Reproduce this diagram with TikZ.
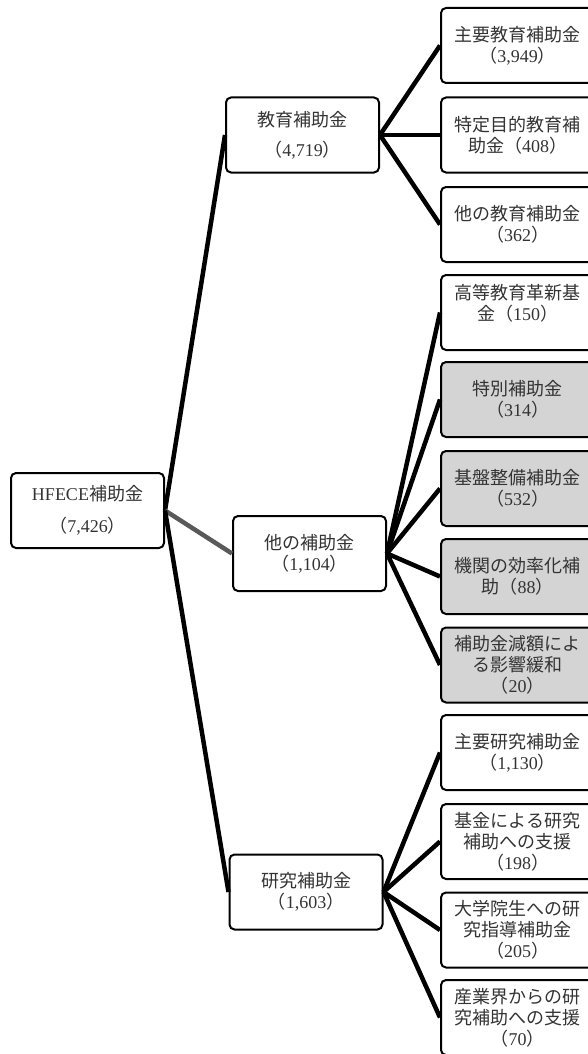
\documentclass[tikz,border=0pt]{standalone}
\usepackage{fontspec}
\newfontfamily\cjk{Noto Sans CJK JP}
\newfontfamily\numfont{Liberation Serif}
\newcommand{\amt}[1]{（{\numfont #1}）}

\tikzset{
  box/.style={draw, line width=2pt, rounded corners=5pt, minimum width=153pt,
    minimum height=75pt, align=center, inner sep=0pt, text=black!80,
    font=\cjk\fontsize{18}{21}\selectfont},
  greybox/.style={box, fill=black!17},
  link/.style={line width=4.5pt},
  greylink/.style={line width=4.5pt, draw=black!65},
}

\begin{document}
\begin{tikzpicture}[x=1pt,y=1pt]
\useasboundingbox (0,0) rectangle (587,-1054);

% Wurzel und mittlere Spalte:
\node[box] (root) at (87.5,-510.5) {{\numfont HFECE}補助金\\[11pt]\amt{7,426}};
\node[box] (edu) at (302.5,-135) {教育補助金\\[9pt]\amt{4,719}};
\node[box] (other) at (309.5,-553.5) {他の補助金\\\amt{1,104}};
\node[box] (res) at (306,-892) {研究補助金\\\amt{1,603}};

% rechte Spalte:
\node[box] (edu1) at (517.5,-45.5) {主要教育補助金\\\amt{3,949}};
\node[box] (edu2) at (517.5,-135) {特定目的教育補\\助金\amt{408}};
\node[box] (edu3) at (517.5,-224.5) {他の教育補助金\\\amt{362}};
\node[box] (oth1) at (517.5,-312.5) {高等教育革新基\\金\amt{150}\\\mbox{}};
\node[greybox] (oth2) at (517.5,-399.5) {特別補助金\\\amt{314}};
\node[greybox] (oth3) at (517.5,-488.5) {基盤整備補助金\\\amt{532}};
\node[greybox] (oth4) at (517.5,-576.5) {機関の効率化補\\助\amt{88}};
\node[greybox] (oth5) at (517.5,-665) {補助金減額によ\\る影響緩和\\\amt{20}};
\node[box] (res1) at (517.5,-752.5) {主要研究補助金\\\amt{1,130}};
\node[box] (res2) at (517.5,-841.5) {基金による研究\\補助への支援\\\amt{198}};
\node[box] (res3) at (517.5,-930) {大学院生への研\\究指導補助金\\\amt{205}};
\node[box] (res4) at (517.5,-1017.5) {産業界からの研\\究補助への支援\\\amt{70}};

% Verbindungen:
\draw[link] (root.east) -- (edu.west);
\draw[greylink] (root.east) -- (other.west);
\draw[link] (root.east) -- (res.west);
\foreach \n in {edu1,edu2,edu3}
  \draw[link] (edu.east) -- (\n.west);
\foreach \n in {oth1,oth2,oth3,oth4,oth5}
  \draw[link] (other.east) -- (\n.west);
\foreach \n in {res1,res2,res3,res4}
  \draw[link] (res.east) -- (\n.west);
\end{tikzpicture}
\end{document}
